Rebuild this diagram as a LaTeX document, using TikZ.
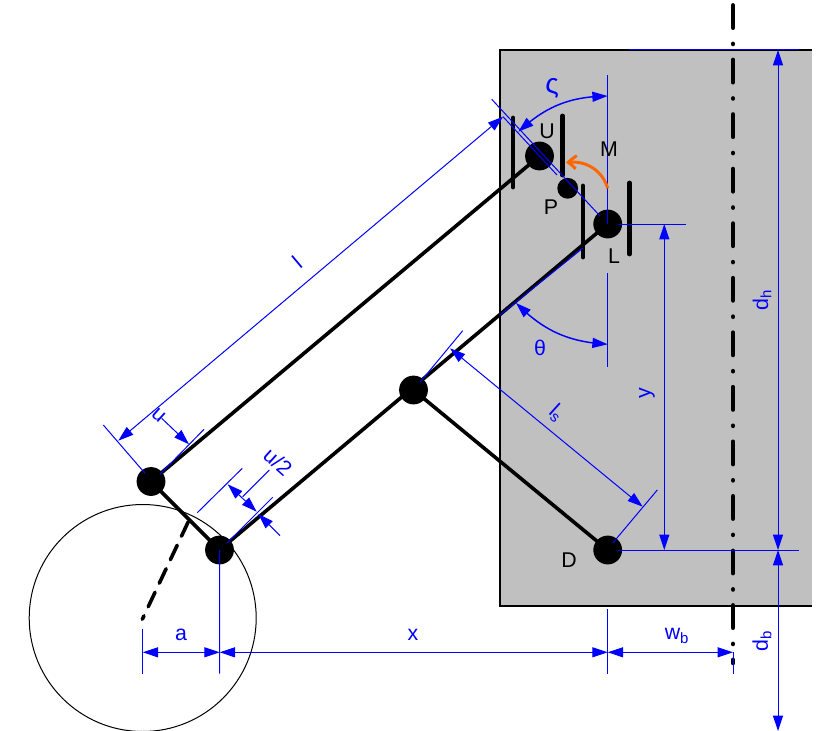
\documentclass[tikz,border=0pt]{standalone}
\usepackage{fontspec}
\setmainfont{Liberation Sans}
\usetikzlibrary{arrows.meta, bending}
\definecolor{platecolor}{RGB}{192, 192, 192}
\definecolor{dimcolor}{RGB}{0, 0, 255}
\definecolor{momentcolor}{RGB}{255, 102, 0}
\tikzset{
    joint/.style={circle, fill=black, inner sep=0pt, minimum size=21.6pt},
    smalljoint/.style={circle, fill=black, inner sep=0pt, minimum size=15.6pt},
    link/.style={black, line width=2.7pt},
    guide/.style={black, line width=3.6pt, line cap=round},
    dimline/.style={dimcolor, line width=0.75pt},
    dimarrow/.style={dimline, {Triangle[length=11.5pt,width=7.5pt]}-{Triangle[length=11.5pt,width=7.5pt]}},
    dimtip/.style={dimline, -{Triangle[length=11.5pt,width=7.5pt]}},
    dimtext/.style={text=dimcolor, font=\fontsize{16pt}{18pt}\selectfont, inner sep=0pt},
    marktext/.style={text=black, font=\fontsize{16pt}{18pt}\selectfont, inner sep=0pt}
}
\begin{document}
\begin{tikzpicture}[x=0.75pt, y=-0.75pt]
        \useasboundingbox (0, 0) rectangle (838, 731);

        % Wall
        \fill[platecolor] (500, 50) rectangle (812, 606);
        \draw[black, line width=1.5pt] (812, 50) -- (500, 50) -- (500, 606) -- (812, 606);

        % Wheel and centre line
        \draw[black, line width=0.75pt] (142.7, 618) circle (113.5);
        \coordinate (axleTop) at (733, 5.4);
        \coordinate (axleEnd) at (733, 663);
        \draw[black, line width=3.5pt, line cap=round, dash pattern=on 16.7pt off 12.2pt on 0.01pt off 12pt] (axleTop) -- (axleEnd);

        % Joints
        \node[joint] (U) at (539.5, 156) {};
        \node[joint] (L) at (607.7, 224) {};
        \node[smalljoint] (P) at (567.7, 188.3) {};
        \node[joint] (D) at (607.7, 550) {};
        \node[joint] (K) at (413.5, 390) {};
        \node[joint] (HU) at (151, 481.5) {};
        \node[joint] (HL) at (219.5, 550) {};
        \coordinate (C) at (142.3, 619.3);
        \coordinate (Cr) at (188.3, 521.7);
        \coordinate (HLd) at (219.5, 618);

        % Links
        \draw[link] (U.center) -- (HU.center);
        \draw[link] (L.center) -- (HL.center);
        \draw[link] (K.center) -- (D.center);
        \draw[link] (HU.center) -- (HL.center);
        \draw[black, line width=2.7pt, line cap=round, dash pattern=on 12pt off 7.5pt] (Cr) -- (C);
        \draw[black, line width=1.2pt] (HL.center) -- (HLd);

        % Guides
        \coordinate (g1a) at (513, 118); \coordinate (g1b) at (513, 187);
        \coordinate (g2a) at (562.7, 116); \coordinate (g2b) at (562.7, 175);
        \coordinate (g3a) at (583, 186); \coordinate (g3b) at (583, 257);
        \coordinate (g4a) at (629.7, 183); \coordinate (g4b) at (629.7, 254);
        \draw[guide] (g1a) -- (g1b);
        \draw[guide] (g2a) -- (g2b);
        \draw[guide] (g3a) -- (g3b);
        \draw[guide] (g4a) -- (g4b);

        % Vertical reference and rod axis
        \coordinate (vTop) at (607.7, 75);
        \coordinate (vMid) at (607.7, 224);
        \coordinate (vLow) at (607.7, 273);
        \coordinate (vEnd) at (607.7, 366.7);
        \coordinate (rodA) at (491.7, 99.3);
        \coordinate (rodB) at (600, 216);
        \coordinate (rodC) at (503, 116.7);
        \coordinate (rodD) at (557, 175);
        \draw[dimline] (vTop) -- (vMid);
        \draw[dimline] (vLow) -- (vEnd);
        \draw[dimline] (rodA) -- (rodB);
        \draw[dimline] (rodC) -- (rodD);

        % Angles
        \coordinate (zetaA) at (607.7, 96);
        \coordinate (zetaB) at (518.3, 131.7);
        \coordinate (thetaA) at (607.7, 344.3);
        \coordinate (thetaB) at (516, 303);
        \coordinate (linkLow) at (500, 315);
        \coordinate (linkUp) at (583, 248);
        \draw[dimarrow, line width=1.1pt] (zetaA) to[bend right=21] (zetaB);
        \draw[dimarrow, line width=1.1pt] (thetaA) to[bend left=21] (thetaB);
        \draw[dimline] (linkLow) -- (linkUp);
        \node[dimtext, font=\fontsize{21pt}{23pt}\selectfont] (zetaText) at (552, 88) {ς};
        \node[dimtext] (thetaText) at (540, 348) {θ};

        % Moment
        \coordinate (momA) at (607.7, 188.3);
        \coordinate (momB) at (566, 162.7);
        \draw[momentcolor, line width=2.2pt, -{Straight Barb[length=6pt,width=10pt,bend]}] (momA) to[bend right=42] (momB);

        % Length l and u
        \coordinate (lA) at (503, 116.7);
        \coordinate (lB) at (118.3, 440.7);
        \coordinate (tuA) at (103.3, 425);
        \coordinate (tuB) at (145, 473.3);
        \coordinate (tvA) at (160, 474.3);
        \coordinate (tvB) at (204, 429.3);
        \coordinate (uFree) at (161.7, 418.3);
        \coordinate (uTip) at (189, 444.3);
        \draw[dimarrow] (lA) -- (lB);
        \draw[dimline] (tuA) -- (tuB);
        \draw[dimline] (tvA) -- (tvB);
        \draw[dimtip] (uFree) -- (uTip);
        \node[dimtext, rotate=40] (lText) at (297, 262) {l};
        \node[dimtext, rotate=-42] (uText) at (158.5, 415) {u};

        % Half offset
        \coordinate (hA) at (197.3, 512.7);
        \coordinate (hB) at (242.3, 468.3);
        \coordinate (hC) at (226.7, 543.3);
        \coordinate (hD) at (272.7, 497.3);
        \coordinate (hE) at (227.7, 484.3);
        \coordinate (hF) at (256.7, 511.7);
        \coordinate (hG) at (280, 535.7);
        \coordinate (hH) at (258.3, 514);
        \coordinate (hI) at (242.7, 496.7);
        \coordinate (hJ) at (269.3, 470);
        \draw[dimline] (hA) -- (hB);
        \draw[dimline] (hC) -- (hD);
        \draw[dimarrow] (hE) -- (hF);
        \draw[dimtip] (hG) -- (hH);
        \draw[dimline] (hI) -- (hJ);
        \node[dimtext, rotate=-42] (halfText) at (278, 461.7) {u/2};

        % Length ls
        \coordinate (sA) at (450, 348.3);
        \coordinate (sB) at (642.7, 506.7);
        \coordinate (sC) at (420, 382.3);
        \coordinate (sD) at (462.7, 330.7);
        \coordinate (sE) at (613, 542.7);
        \coordinate (sF) at (657.3, 490);
        \draw[dimarrow] (sA) -- (sB);
        \draw[dimline] (sC) -- (sD);
        \draw[dimline] (sE) -- (sF);
        \node[dimtext, rotate=-42] (lsText) at (556.7, 413) {l\textsubscript{s}};

        % Heights
        \coordinate (yTop) at (664.3, 224);
        \coordinate (yEnd) at (664.3, 550);
        \coordinate (dhTop) at (778, 50);
        \coordinate (dhEnd) at (778, 550);
        \coordinate (dbEnd) at (778, 731);
        \coordinate (refLa) at (618, 224);
        \coordinate (refLb) at (686, 224);
        \coordinate (refDa) at (618, 550);
        \coordinate (refDb) at (799, 550);
        \coordinate (refTa) at (629, 50);
        \coordinate (refTb) at (799, 50);
        \draw[dimline] (refLa) -- (refLb);
        \draw[dimline] (refDa) -- (refDb);
        \draw[dimline] (refTa) -- (refTb);
        \draw[dimarrow] (yTop) -- (yEnd);
        \draw[dimarrow] (dhTop) -- (dhEnd);
        \draw[dimarrow] (dhEnd) -- (dbEnd);
        \node[dimtext, rotate=90] (yText) at (647, 393) {y};
        \node[dimtext, rotate=90] (dhText) at (762, 300) {d\textsubscript{h}};
        \node[dimtext, rotate=90] (dbText) at (762, 641) {d\textsubscript{b}};

        % Bottom dimensions
        \coordinate (aA) at (142.7, 652.3);
        \coordinate (aB) at (219.7, 652.3);
        \coordinate (xB) at (607.7, 652.3);
        \coordinate (wB) at (733, 652.3);
        \coordinate (aTa) at (142.7, 629);
        \coordinate (aTb) at (142.7, 673.5);
        \coordinate (bTb) at (219.7, 673.5);
        \coordinate (xTa) at (607.7, 609);
        \coordinate (xTb) at (607.7, 673.5);
        \coordinate (wTa) at (733, 652.3);
        \coordinate (wTb) at (733, 673.5);
        \draw[dimline] (aTa) -- (aTb);
        \draw[dimline] (HL.center) -- (bTb);
        \draw[dimline] (xTa) -- (xTb);
        \draw[dimline] (wTa) -- (wTb);
        \draw[dimarrow] (aA) -- (aB);
        \draw[dimarrow] (aB) -- (xB);
        \draw[dimarrow] (xB) -- (wB);
        \node[dimtext] (aText) at (181, 635) {a};
        \node[dimtext] (xText) at (413, 635) {x};
        \node[dimtext] (wText) at (677, 636) {w\textsubscript{b}};

        % Point labels
        \node[marktext] (UText) at (547, 131) {U};
        \node[marktext] (MText) at (609, 149) {M};
        \node[marktext] (PText) at (551, 207) {P};
        \node[marktext] (LText) at (614, 256) {L};
        \node[marktext] (DText) at (569, 560) {D};
\end{tikzpicture}
\end{document}
